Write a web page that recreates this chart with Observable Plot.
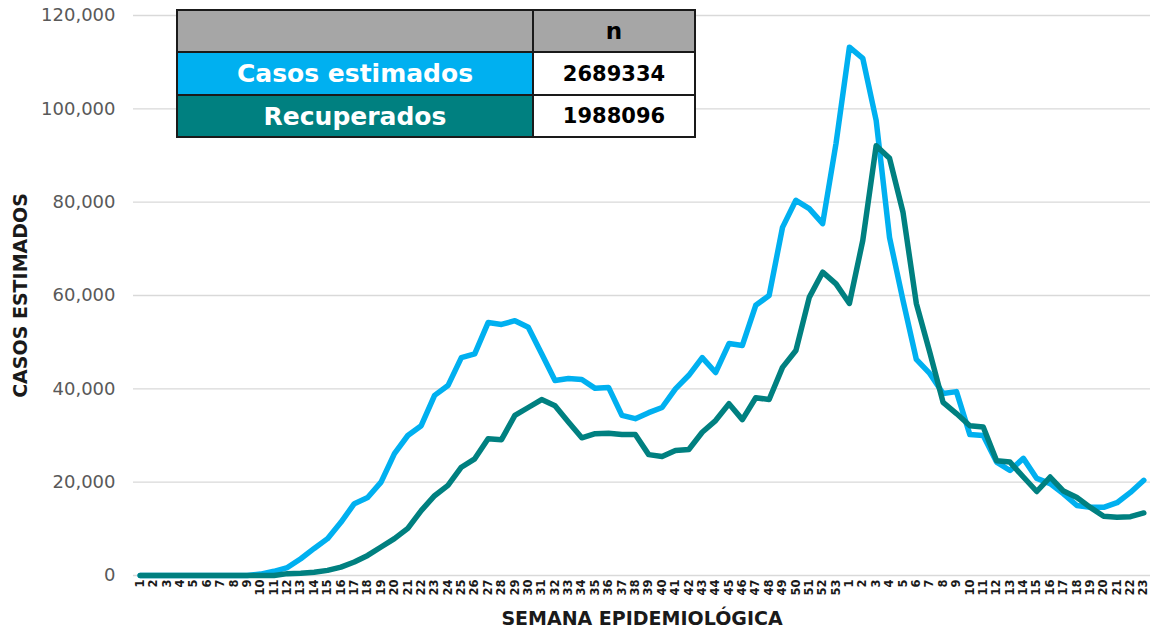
<!DOCTYPE html>
<html><head><meta charset="utf-8">
<script src="https://cdn.jsdelivr.net/npm/d3@7"></script>
<script src="https://cdn.jsdelivr.net/npm/@observablehq/plot@0.6"></script>
<style>
body{margin:0;background:#fff;font-family:"DejaVu Sans",sans-serif;}
#wrap{position:relative;width:1156px;height:637px;overflow:hidden;}
#tbl{position:absolute;left:176px;top:9px;border-collapse:collapse;}
#tbl td{border:2px solid #1a1a1a;padding:0;text-align:center;font-weight:bold;}
</style></head><body><div id="wrap"></div>
<script>
// Week labels (2020: 1–53, 2021: 1–23)
const weeks = [1,2,3,4,5,6,7,8,9,10,11,12,13,14,15,16,17,18,19,20,21,22,23,24,25,26,27,28,29,30,31,32,33,34,35,36,37,38,39,40,41,42,43,44,45,46,47,48,49,50,51,52,53,
  1,2,3,4,5,6,7,8,9,10,11,12,13,14,15,16,17,18,19,20,21,22,23];
const casosEstimados = [0,0,0,0,0,0,0,0,0,300,900,1700,3600,5800,7900,11400,15400,16700,20000,26100,30000,32100,38600,40700,46700,47500,54200,53800,54600,53200,47500,41800,42200,42000,40100,40300,34300,33600,34900,36000,40000,42900,46700,43500,49700,49300,57900,60000,74600,80400,78600,75400,92600,
  113200,110800,97500,72400,59000,46300,43300,39000,39400,30200,30000,24300,22500,25100,20800,19700,17500,15000,14600,14600,15600,17800,20400];
const recuperados = [0,0,0,0,0,0,0,0,0,0,0,400,500,700,1100,1800,2900,4300,6100,7900,10100,13900,17100,19300,23200,25000,29300,29100,34300,36000,37700,36400,32900,29500,30400,30500,30200,30200,25900,25500,26800,27000,30700,33200,36800,33400,38100,37700,44600,48200,59600,65000,62500,
  58300,71800,92100,89400,77900,58300,47900,37100,34700,32100,31800,24600,24300,21100,18000,21100,18100,16700,14600,12700,12500,12600,13400];
const yTicks = [0,20000,40000,60000,80000,100000,120000];
const seriesNames = ["Casos estimados","Recuperados"];
const seriesTotals = [2689334,1988096];
const seriesColors = ["#00b0f0","#008080"];
const xTitle = "SEMANA EPIDEMIOLÓGICA";
const yTitle = "CASOS ESTIMADOS";

const idx = weeks.map((_, i) => i);
const rows = idx.flatMap(i => [
  {i, v: casosEstimados[i], s: seriesNames[0]},
  {i, v: recuperados[i], s: seriesNames[1]}
]);

const chart = Plot.plot({
  width: 1156, height: 637,
  marginLeft: 133, marginRight: 6, marginTop: 15, marginBottom: 62,
  style: {fontFamily: '"DejaVu Sans",sans-serif', background: "#fff"},
  x: {type: "point", domain: idx, padding: 0.5, round: false},
  y: {domain: [0, 120000]},
  color: {domain: seriesNames, range: seriesColors},
  marks: [
    Plot.gridY(yTicks, {stroke: "#d9d9d9", strokeOpacity: 1, strokeWidth: 1.3}),
    Plot.axisY(yTicks, {tickSize: 0, tickPadding: 18, tickFormat: d3.format(","), fontSize: 18, fill: "#595959", label: null}),
    Plot.axisX(idx, {tickSize: 0, tickRotate: -90, tickPadding: 4, tickFormat: i => weeks[i], fontSize: 11.5, fontWeight: "bold", fill: "#1a1a1a", label: null}),
    Plot.text([xTitle], {frameAnchor: "bottom", dy: 49, fontSize: 19, fontWeight: "bold", fill: "#1a1a1a"}),
    Plot.text([yTitle], {frameAnchor: "left", dx: -113, rotate: -90, textAnchor: "middle", fontSize: 19, fontWeight: "bold", fill: "#1a1a1a"}),
    Plot.lineY(rows, {x: "i", y: "v", z: "s", stroke: "s", strokeWidth: 5.5, strokeLinejoin: "round", strokeLinecap: "round"})
  ]
});

const wrap = document.getElementById("wrap");
wrap.appendChild(chart);

// Summary table (legend)
const tbl = document.createElement("table");
tbl.id = "tbl";
const hdr = tbl.insertRow();
const h1 = hdr.insertCell(); h1.style.cssText = "width:354px;height:40px;background:#a6a6a6;";
const h2 = hdr.insertCell(); h2.textContent = "n";
h2.style.cssText = "width:160px;height:40px;background:#a6a6a6;color:#000;font-size:23px;";
seriesNames.forEach((name, k) => {
  const r = tbl.insertRow();
  const c1 = r.insertCell(); c1.textContent = name;
  c1.style.cssText = `height:${k===0?41:40}px;background:${seriesColors[k]};color:#fff;font-size:25px;`;
  const c2 = r.insertCell(); c2.textContent = String(seriesTotals[k]);
  c2.style.cssText = "background:#fff;color:#000;font-size:21px;";
});
wrap.appendChild(tbl);
</script>
</body></html>
